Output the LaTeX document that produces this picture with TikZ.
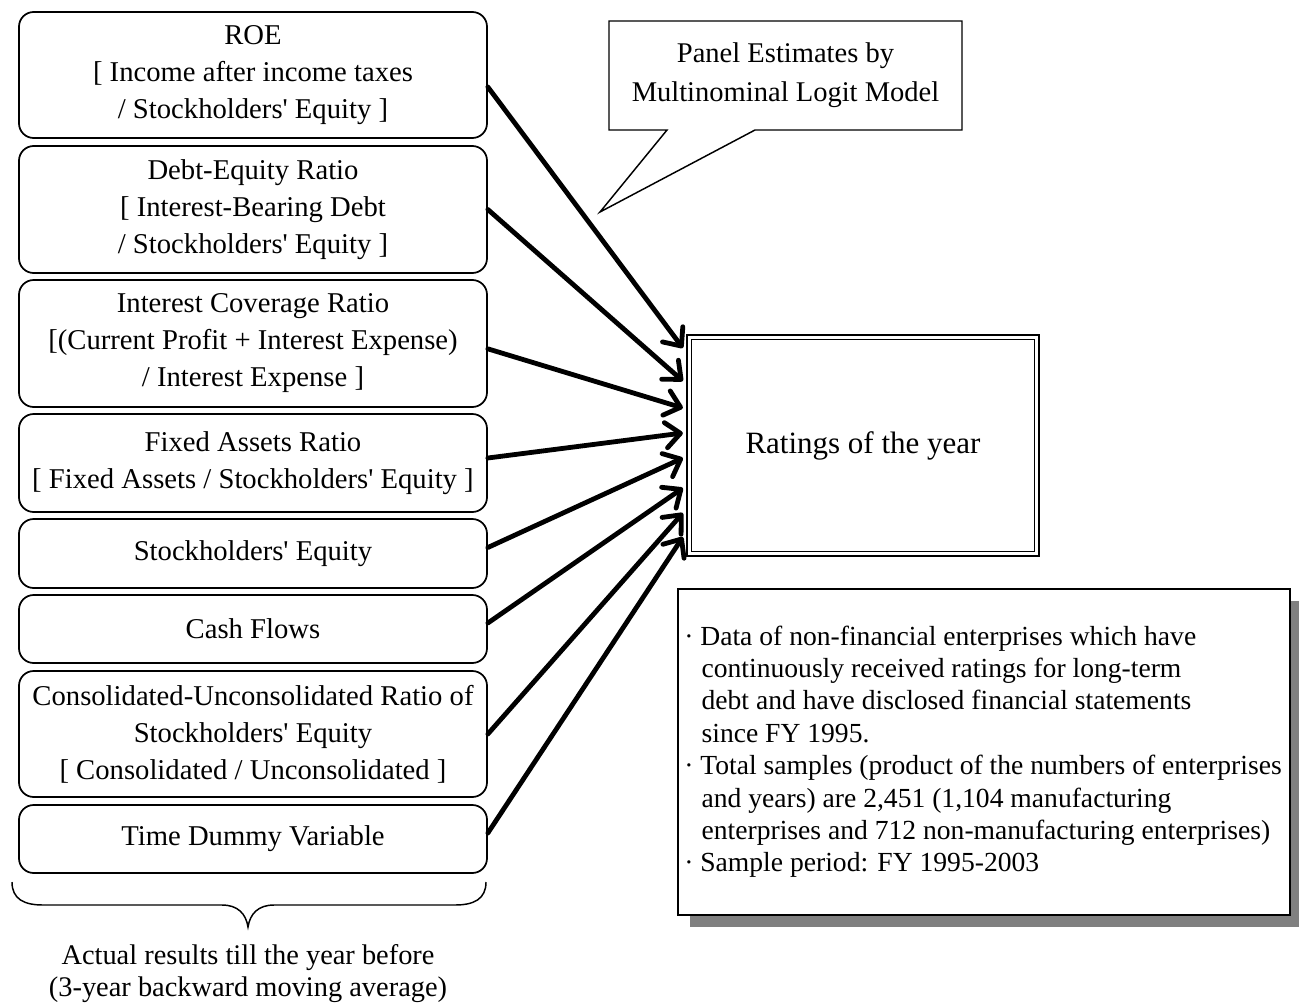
\documentclass[tikz,border=0pt]{standalone}
\usepackage{fontspec}
\setmainfont{Liberation Serif}[Ligatures=TeXOff]
\usetikzlibrary{arrows.meta,calc,shadows}
\begin{document}
\begin{tikzpicture}[x=0.75pt,y=-0.75pt,
  varbox/.style={draw, line width=1.3pt, rounded corners=11pt, minimum width=351pt,
    align=center, inner sep=0pt, font=\fontsize{21.5}{27.75}\selectfont},
  feed/.style={line width=3.6pt, line cap=round,
    -{Straight Barb[length=11pt,width=19pt,round]}},
  infoline/.style={anchor=base west, inner sep=0pt, font=\fontsize{20.7}{24.3}\selectfont},
  thinline/.style={line width=1.1pt}]
\useasboundingbox (0,0) rectangle (1299,1003);

% left column of variables
\node[varbox, minimum height=94.5pt] (roe) at (253,75)
  {ROE\\ {[} Income after income taxes\\/ Stockholders' Equity ]};
\node[varbox, minimum height=95.25pt] (der) at (253,209.5)
  {Debt-Equity Ratio\\ {[} Interest-Bearing Debt\\/ Stockholders' Equity ]};
\node[varbox, minimum height=95.25pt] (icr) at (253,343.5)
  {Interest Coverage Ratio\\ {[}(Current Profit + Interest Expense)\\/ Interest Expense ]};
\node[varbox, minimum height=73.5pt] (far) at (253,463)
  {Fixed Assets Ratio\\ {[} Fixed Assets / Stockholders' Equity ]};
\node[varbox, minimum height=51.75pt] (seq) at (253,553.5) {Stockholders' Equity};
\node[varbox, minimum height=51pt] (cfl) at (253,629) {Cash Flows};
\node[varbox, minimum height=94.5pt] (cur) at (253,734)
  {Consolidated-Unconsolidated Ratio of\\Stockholders' Equity\\ {[} Consolidated / Unconsolidated ]};
\node[varbox, minimum height=51pt] (tdv) at (253,839) {Time Dummy Variable};

% ratings box with double border
\node[draw, line width=2.2pt, minimum width=264pt, minimum height=165.75pt, inner sep=0pt,
  font=\fontsize{23.25}{28}\selectfont] (rat) at (863,445.5) {Ratings of the year};
\draw[line width=1.1pt] ($(rat.north west)+(4.5pt,-4.5pt)$) rectangle ($(rat.south east)+(-4.5pt,4.5pt)$);

% arrow targets
\path (rat.west) ++(-2pt,0) coordinate (tx);
\coordinate (t1) at (tx |- 0,348);
\coordinate (t2) at (tx |- 0,381);
\coordinate (t3) at (tx |- 0,408);
\coordinate (t4) at (tx |- 0,433);
\coordinate (t5) at (tx |- 0,458);
\coordinate (t6) at (tx |- 0,488);
\coordinate (t7) at (tx |- 0,513);
\coordinate (t8) at (tx |- 0,537);

\draw[feed] ([yshift=-9pt]roe.east) -- (t1);
\draw[feed] (der.east) -- (t2);
\draw[feed] ([yshift=-4pt]icr.east) -- (t3);
\draw[feed] ([yshift=3.75pt]far.east) -- (t4);
\draw[feed] ([yshift=4.5pt]seq.east) -- (t5);
\draw[feed] ([yshift=4.5pt]cfl.east) -- (t6);
\draw[feed] (cur.east) -- (t7);
\draw[feed] ([yshift=4.5pt]tdv.east) -- (t8);

% callout
\draw[thinline, fill=white] (609,21) -- (962,21) -- (962,130) -- (755,130) -- (600,212)
  -- (667,130) -- (609,130) -- cycle;
\node[align=center, inner sep=0pt, font=\fontsize{21.4}{29.25}\selectfont] (panel) at (785.5,75.5)
  {Panel Estimates by\\Multinominal Logit Model};

% info box with shadow
\node[draw, line width=1.6pt, fill=white, minimum width=459pt, minimum height=244.5pt,
  drop shadow={shadow xshift=9pt, shadow yshift=-9pt, fill=black!50, opacity=1}] (info) at (984,752) {};
\node[infoline] (i1) at (684,645.0) {\textperiodcentered\ Data of non-financial enterprises which have};
\node[infoline] (i2) at (684,677.4) {\hspace*{13pt}continuously received ratings for long-term};
\node[infoline] (i3) at (684,709.8) {\hspace*{13pt}debt and have disclosed financial statements};
\node[infoline] (i4) at (684,742.2) {\hspace*{13pt}since FY 1995.};
\node[infoline] (i5) at (684,774.6) {\textperiodcentered\ Total samples (product of the numbers of enterprises};
\node[infoline] (i6) at (684,807.0) {\hspace*{13pt}and years) are 2,451 (1,104 manufacturing};
\node[infoline] (i7) at (684,839.4) {\hspace*{13pt}enterprises and 712 non-manufacturing enterprises)};
\node[infoline] (i8) at (684,871.8) {\textperiodcentered\ Sample period: FY 1995-2003};

% brace
\draw[thinline] (12,882) .. controls (12,899) and (24,905) .. (43,905) -- (222,905)
  .. controls (238,905) and (246,914) .. (248,927)
  .. controls (250,914) and (258,905) .. (274,905) -- (455,905)
  .. controls (474,905) and (486,899) .. (486,882);
\node[align=center, inner sep=0pt, font=\fontsize{21.3}{24}\selectfont] (actual) at (248,974)
  {Actual results till the year before\\(3-year backward moving average)};
\end{tikzpicture}
\end{document}
